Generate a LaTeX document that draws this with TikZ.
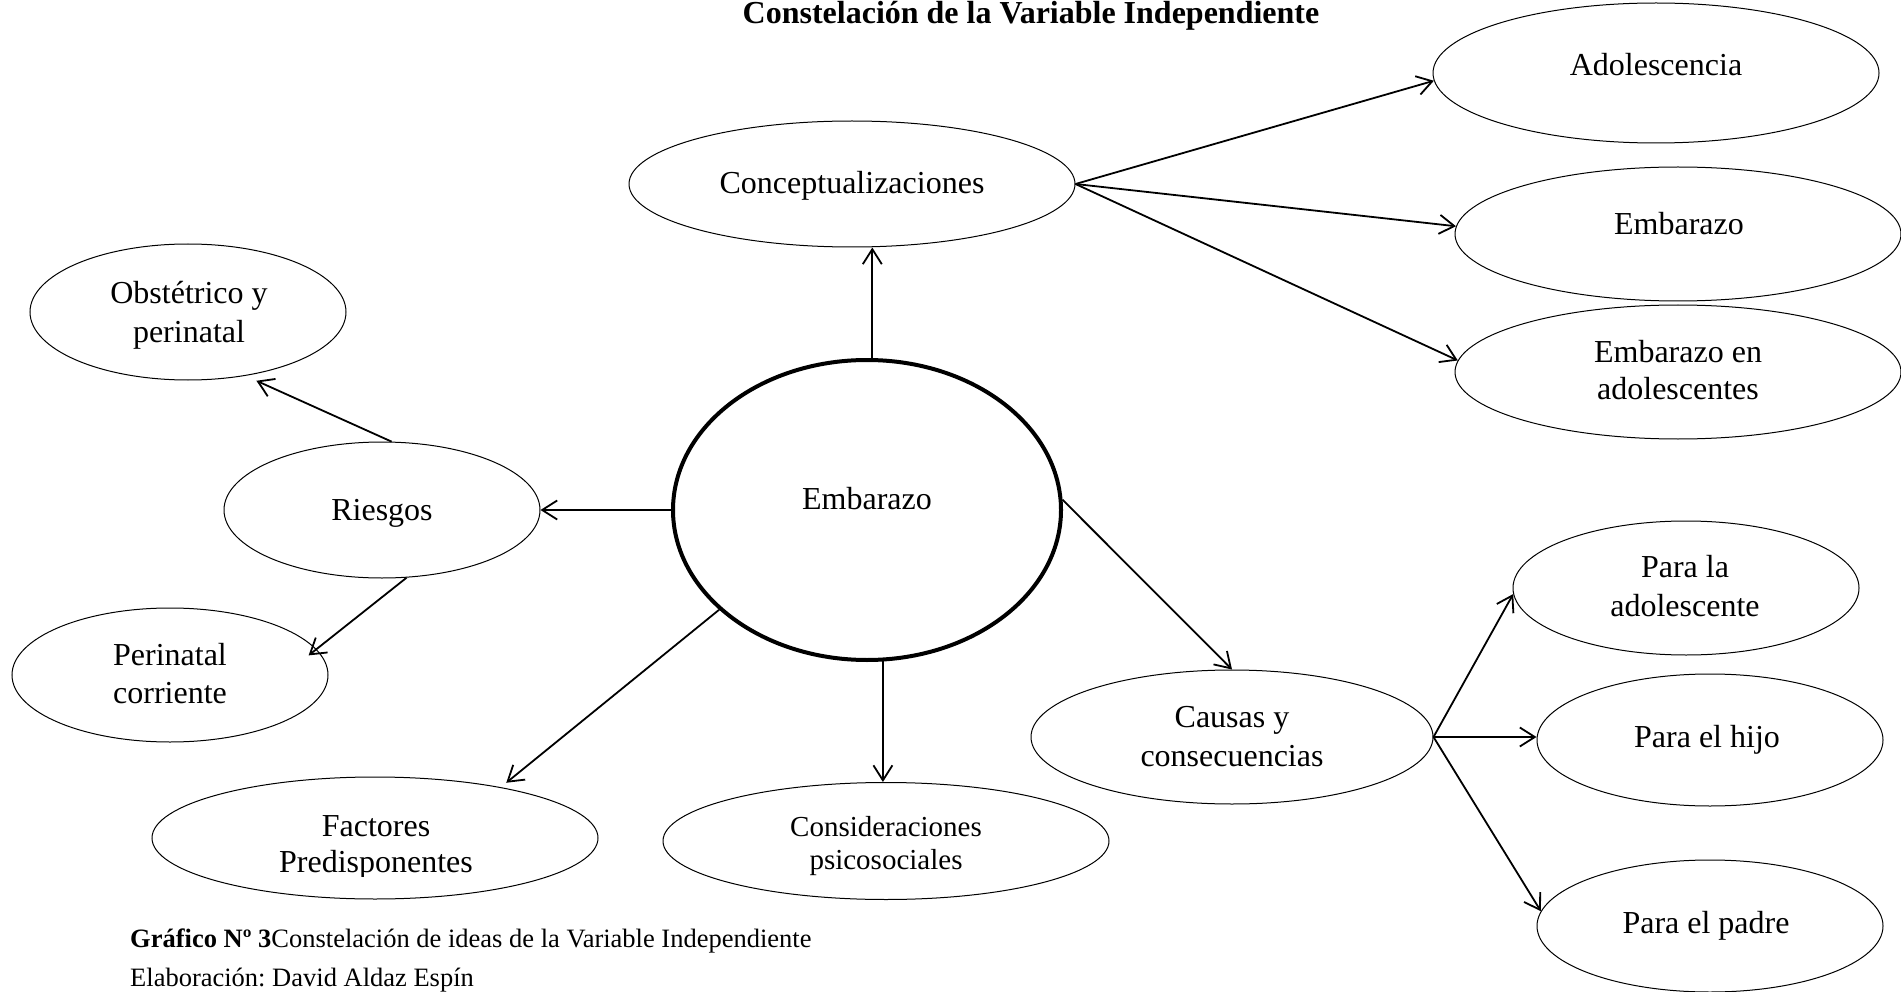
\documentclass[tikz,border=0pt]{standalone}
\usepackage{fontspec}
\setmainfont{Liberation Serif}
\usetikzlibrary{shapes.geometric,arrows.meta}
\frenchspacing
\begin{document}
\begin{tikzpicture}[x=1pt,y=-1pt,
  ell/.style={draw,ellipse,line width=1pt,inner sep=0pt},
  lbl/.style={anchor=base,inner sep=0pt,align=center,font=\fontsize{32}{38}\selectfont},
  arr/.style={line width=1.8pt,-{Straight Barb[length=15pt,width=19pt]}},
]
\useasboundingbox (0,0) rectangle (1901,992);

% ellipses
\node[ell,minimum width=446pt,minimum height=126pt] (con) at (852,184) {};
\node[ell,minimum width=446pt,minimum height=140pt] (ado) at (1656,73) {};
\node[ell,minimum width=446pt,minimum height=134pt] (emb2) at (1678,234) {};
\node[ell,minimum width=446pt,minimum height=134pt] (ea) at (1678,372) {};
\node[ell,minimum width=316pt,minimum height=136pt] (obs) at (188,312) {};
\node[ell,minimum width=316pt,minimum height=136pt] (rie) at (382,510) {};
\node[ell,minimum width=316pt,minimum height=134pt] (per) at (170,675) {};
\node[draw,ellipse,line width=4pt,inner sep=0pt,minimum width=388pt,minimum height=300pt] (emb) at (867,510) {};
\node[ell,minimum width=446pt,minimum height=122pt] (fac) at (375,838) {};
\node[ell,minimum width=446pt,minimum height=117pt] (cons) at (886,841) {};
\node[ell,minimum width=402pt,minimum height=134pt] (cau) at (1232,737) {};
\node[ell,minimum width=346pt,minimum height=134pt] (pla) at (1686,588) {};
\node[ell,minimum width=346pt,minimum height=132pt] (hij) at (1710,740) {};
\node[ell,minimum width=346pt,minimum height=132pt] (pad) at (1710,926) {};

% labels
\node[lbl] (conT) at (852,194) {Conceptualizaciones};
\node[lbl] (adoT) at (1656,76) {Adolescencia};
\node[lbl] (emb2T) at (1679,235) {Embarazo};
\node[lbl,font=\fontsize{32}{37}\selectfont] (eaT) at (1678,399) {Embarazo en\\adolescentes};
\node[lbl,font=\fontsize{32}{39}\selectfont] (obsT) at (189,342) {Obstétrico y\\perinatal};
\node[lbl] (rieT) at (382,520) {Riesgos};
\node[lbl] (perT) at (170,703) {Perinatal\\corriente};
\node[lbl] (embT) at (867,509) {Embarazo};
\node[lbl,font=\fontsize{32}{39}\selectfont] (cauT) at (1232,766) {Causas y\\consecuencias};
\node[lbl,font=\fontsize{32}{39}\selectfont] (plaT) at (1685,616) {Para la\\adolescente};
\node[lbl] (hijT) at (1707,747) {Para el hijo};
\node[lbl] (padT) at (1706,933) {Para el padre};
\begin{scope}
  \clip (100,760) rectangle (1150,876);
  \node[lbl,font=\fontsize{32}{36}\selectfont] (facT) at (376,872) {Factores\\Predisponentes};
  \node[lbl,font=\fontsize{29}{33}\selectfont] (consT) at (886,869) {Consideraciones\\psicosociales};
\end{scope}

% title and caption
\node[anchor=base,inner sep=0pt,font=\bfseries\fontsize{32}{38}\selectfont] (title) at (1031,24) {Constelación de la Variable Independiente};
\node[anchor=base west,inner sep=0pt,font=\fontsize{26.5}{30}\selectfont] (cap) at (130,947) {\textbf{Gráfico Nº 3}Constelación de ideas de la Variable Independiente};
\node[anchor=base west,inner sep=0pt,font=\fontsize{26.5}{30}\selectfont] (elab) at (130,986) {Elaboración: David Aldaz Espín};

% connectors
\draw[arr] (emb.88) -- (emb.88 |- con.south);
\draw[arr] (con.east) -- (ado.182);
\draw[arr] (con.east) -- (emb2.178);
\draw[arr] (con.east) -- (ea.177);
\draw[arr] (emb.west) -- (rie.east);
\draw[arr,shorten >=12pt] (rie.82) -- (obs.-48);
\draw[arr,shorten >=-10pt] (rie.-70) -- (per.10);
\draw[arr,shorten >=7pt] (emb.214) -- (fac.22);
\draw[arr] (emb.-84) -- (emb.-84 |- cons.north);
\draw[arr] (emb.3) -- (cau.north);
\draw[arr] (cau.east) -- (pla.182);
\draw[arr] (cau.east) -- (cau.east -| hij.west);
\draw[arr] (cau.east) -- (pad.175);
\end{tikzpicture}
\end{document}
